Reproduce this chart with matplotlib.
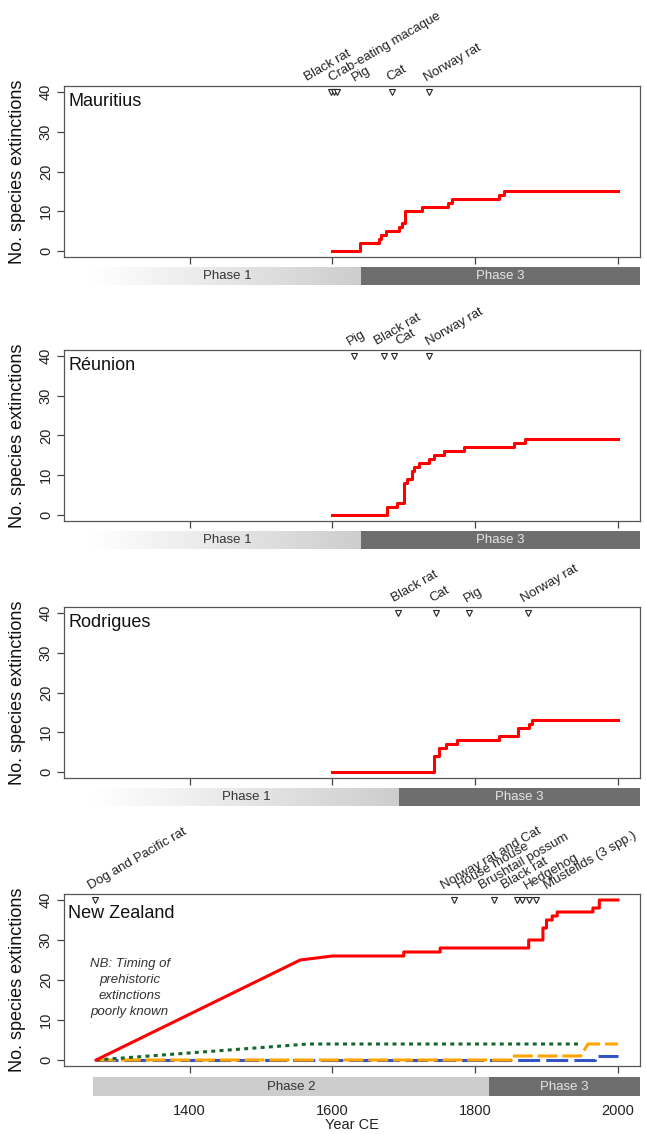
import matplotlib.pyplot as plt
import numpy as np
from matplotlib.colors import LinearSegmentedColormap

plt.rcParams["font.family"] = ["Liberation Sans", "DejaVu Sans"]

# cumulative extinctions (step data)
mau_years = [1600, 1639, 1665, 1668, 1675, 1694, 1697, 1702, 1726, 1762, 1767, 1834, 1840, 2000]
mau_ext = [0, 2, 3, 4, 5, 6, 7, 10, 11, 12, 13, 14, 15, 15]

reu_years = [1600, 1676, 1690, 1701, 1704, 1711, 1714, 1721, 1735, 1743, 1756, 1785, 1854, 1870, 2000]
reu_ext = [0, 2, 3, 8, 9, 11, 12, 13, 14, 15, 16, 17, 18, 19, 19]

rod_years = [1600, 1743, 1749, 1759, 1774, 1834, 1860, 1875, 1880, 2000]
rod_ext = [0, 4, 6, 7, 8, 9, 11, 12, 13, 13]

# New Zealand series (vertices)
nz_red_years = [1269, 1555, 1600, 1700, 1700, 1751, 1751, 1875, 1875, 1895, 1895, 1900, 1900,
                1908, 1908, 1915, 1915, 1965, 1965, 1974, 1974, 2000]
nz_red_ext = [0, 25, 26, 26, 27, 27, 28, 28, 30, 30, 33, 33, 35, 35, 36, 36, 37, 37, 38, 38, 40, 40]
nz_green_years = [1269, 1566, 1950]
nz_green_ext = [0, 4, 4]
nz_orange_years = [1269, 1851, 1851, 1948, 1958, 2000]
nz_orange_ext = [0, 0, 1, 1, 4, 4]
nz_blue_years = [1269, 1968, 1968, 2000]
nz_blue_ext = [0, 0, 1, 1]

# introductions of predators
mau_intro = ["Black rat", "Crab-eating macaque", "Pig", "Cat", "Norway rat"]
mau_intro_years = [1598, 1602, 1606, 1684, 1736]
reu_intro = ["Pig", "Black rat", "Cat", "Norway rat"]
reu_intro_years = [1630, 1673, 1686, 1736]
rod_intro = ["Black rat", "Cat", "Pig", "Norway rat"]
rod_intro_years = [1692, 1745, 1792, 1874]
nz_intro = ["Dog and Pacific rat", "Norway rat and Cat", "House mouse", "Brushtail possum",
            "Black rat", "Hedgehog", "Mustelids (3 spp.)"]
nz_intro_years = [1268, 1770, 1826, 1858, 1866, 1876, 1885]

# phase boundaries
phase_start = 1265
mau_phase3 = 1640
reu_phase3 = 1640
rod_phase3 = 1694
nz_phase3 = 1820

# where the rotated names start (year units)
mau_label_x = [1565, 1599, 1631, 1680, 1732]
reu_label_x = [1624, 1662, 1693, 1735]
rod_label_x = [1687, 1740, 1788, 1868]
nz_label_x = [1261, 1755, 1778, 1809, 1840, 1872, 1900]

W, H = 646, 1134
XLIM = (1224, 2031)
YLIM = (-1.5, 41.5)
LIGHT = "#cdcdcd"
DARK = "#6e6e6e"

fig = plt.figure(figsize=(W / 100, H / 100), dpi=100)


def px_axes(left, top, right, bottom):
    return fig.add_axes([left / W, 1 - bottom / H, (right - left) / W, (bottom - top) / H])


def extinction_panel(top, bottom, name, name_y=0.908):
    ax = px_axes(64, top, 640, bottom)
    ax.set_xlim(XLIM)
    ax.set_ylim(YLIM)
    ax.set_xticks([1400, 1600, 1800, 2000])
    ax.set_xticklabels([])
    ax.set_yticks([0, 10, 20, 30, 40])
    ax.tick_params(direction="out", length=5, width=0.9, color="#444",
                   labelsize=10.5, labelcolor="#222", pad=3)
    ax.tick_params(axis="y", labelrotation=90)
    for lab in ax.get_yticklabels():
        lab.set_va("center")
    for s in ax.spines.values():
        s.set_color("#555")
        s.set_linewidth(0.9)
    ax.text(0.007, name_y, name, transform=ax.transAxes, fontsize=13,
            ha="left", va="center", color="#111")
    fig.text(18 / W, 1 - (top + bottom) / 2 / H, "No. species extinctions",
             rotation=90, ha="center", va="center", fontsize=13, color="#111")
    return ax


def introductions(ax, years, names, label_x):
    ax.plot(years, [40] * len(years), linestyle="none", marker="v", ms=5,
            mfc="white", mec="#222", mew=0.8, clip_on=False, zorder=5)
    for name, lx in zip(names, label_x):
        ax.text(lx, 42.7, name, rotation=30, rotation_mode="anchor", ha="left",
                va="baseline", fontsize=9.5, color="#222", clip_on=False)


def phase_bar(top, bottom, split, first_label, faded=True):
    bx = px_axes(64, top, 640, bottom)
    if faded:
        cmap = LinearSegmentedColormap.from_list("fade", ["white", LIGHT])
        bx.imshow(np.linspace(0, 1, 256).reshape(1, -1), cmap=cmap, aspect="auto",
                  extent=(phase_start, split, 0, 1))
    else:
        bx.axvspan(phase_start, split, color=LIGHT, lw=0)
    bx.axvspan(split, XLIM[1], color=DARK, lw=0)
    bx.text((phase_start + split) / 2, 0.5, first_label, ha="center", va="center",
            fontsize=9.5, color="#333")
    bx.text((split + XLIM[1]) / 2, 0.5, "Phase 3", ha="center", va="center",
            fontsize=9.5, color="#e6e6e6")
    bx.set_xlim(XLIM)
    bx.set_ylim(0, 1)
    bx.set_yticks([])
    bx.set_xticks([])
    for s in bx.spines.values():
        s.set_visible(False)
    return bx


# Mauritius
ax = extinction_panel(86, 257, "Mauritius")
ax.plot(mau_years, mau_ext, drawstyle="steps-post", color="#ff0000", lw=2.2)
introductions(ax, mau_intro_years, mau_intro, mau_label_x)
phase_bar(267, 285, mau_phase3, "Phase 1")

# Réunion
ax = extinction_panel(350, 521, "Réunion")
ax.plot(reu_years, reu_ext, drawstyle="steps-post", color="#ff0000", lw=2.2)
introductions(ax, reu_intro_years, reu_intro, reu_label_x)
phase_bar(531, 549, reu_phase3, "Phase 1")

# Rodrigues
ax = extinction_panel(607, 778, "Rodrigues")
ax.plot(rod_years, rod_ext, drawstyle="steps-post", color="#ff0000", lw=2.2)
introductions(ax, rod_intro_years, rod_intro, rod_label_x)
phase_bar(788, 806, rod_phase3, "Phase 1")

# New Zealand
ax = extinction_panel(894, 1066, "New Zealand", name_y=0.888)
ax.plot(nz_blue_years, nz_blue_ext, color="#3354c4", lw=2.2, dashes=(7.2, 2.0))
ax.plot(nz_orange_years, nz_orange_ext, color="#ffa500", lw=2.2, dashes=(6.5, 1.6))
ax.plot(nz_green_years, nz_green_ext, color="#17662f", lw=2.2, dashes=(1.3, 1.4))
ax.plot(nz_red_years, nz_red_ext, color="#ff0000", lw=2.2)
introductions(ax, nz_intro_years, nz_intro, nz_label_x)
ax.text(1316, 18, "NB: Timing of\nprehistoric\nextinctions\npoorly known", ha="center",
        va="center", style="italic", fontsize=9.5, linespacing=1.45, color="#333")
bx = phase_bar(1077, 1096, nz_phase3, "Phase 2", faded=False)
bx.set_xticks([1400, 1600, 1800, 2000])
bx.tick_params(axis="x", length=0, labelsize=10.5, labelcolor="#222", pad=6)
fig.text((64 + 640) / 2 / W, 1 - 1125 / H, "Year CE", ha="center", va="center",
         fontsize=10.5, color="#222")

fig.savefig("out.png", dpi=100)
